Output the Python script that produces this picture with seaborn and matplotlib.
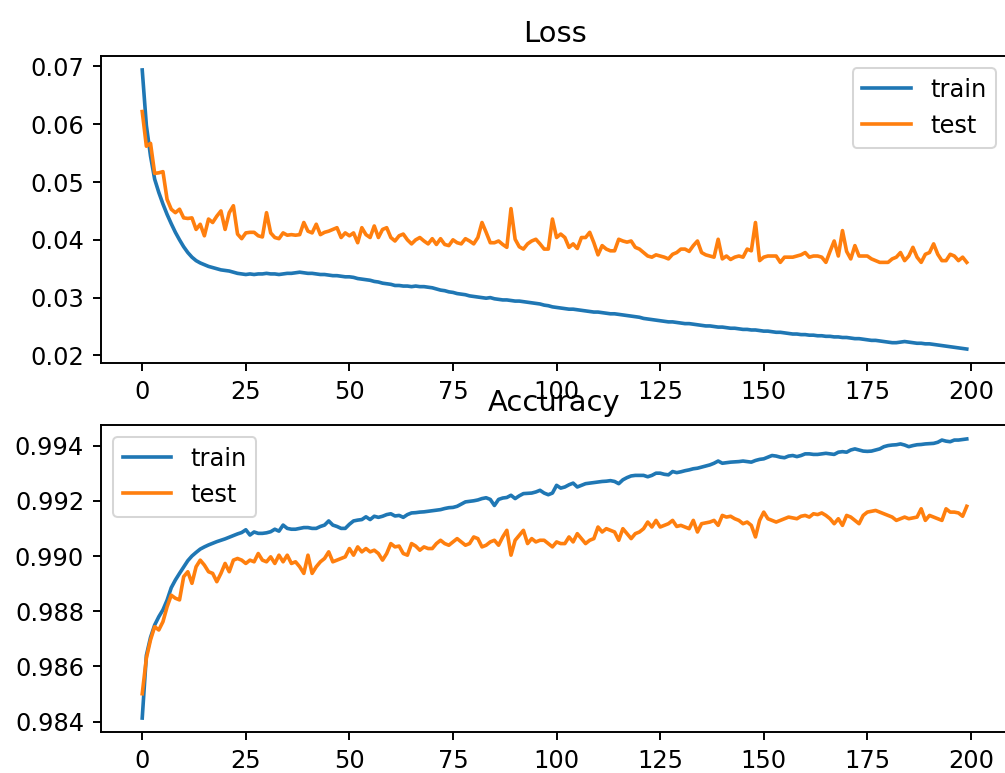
import numpy as np
import pandas as pd
import matplotlib
matplotlib.use("Agg")
import matplotlib.pyplot as plt
import seaborn as sns

series_labels = ["train", "test"]
titles = ["Loss", "Accuracy"]

loss_train = [
    0.0694, 0.0598, 0.0545, 0.0505, 0.0482, 0.0462, 0.0444, 0.0428, 0.0413, 0.0400,
    0.0388, 0.0378, 0.0370, 0.0364, 0.0360, 0.0357, 0.0354, 0.0352, 0.0350, 0.0348,
    0.0347, 0.0346, 0.0344, 0.0342, 0.0341, 0.0340, 0.0341, 0.0340, 0.0341, 0.0341,
    0.0342, 0.0341, 0.0341, 0.0340, 0.0341, 0.0342, 0.0342, 0.0343, 0.0344, 0.0343,
    0.0342, 0.0342, 0.0341, 0.0340, 0.0340, 0.0339, 0.0338, 0.0338, 0.0337, 0.0336,
    0.0336, 0.0335, 0.0333, 0.0332, 0.0331, 0.0330, 0.0328, 0.0327, 0.0325, 0.0324,
    0.0323, 0.0321, 0.0321, 0.0320, 0.0320, 0.0319, 0.0320, 0.0319, 0.0319, 0.0318,
    0.0317, 0.0315, 0.0313, 0.0312, 0.0310, 0.0309, 0.0307, 0.0306, 0.0305, 0.0303,
    0.0302, 0.0301, 0.0300, 0.0299, 0.0300, 0.0298, 0.0297, 0.0296, 0.0296, 0.0295,
    0.0294, 0.0294, 0.0293, 0.0292, 0.0291, 0.0290, 0.0289, 0.0287, 0.0286, 0.0284,
    0.0283, 0.0282, 0.0281, 0.0280, 0.0280, 0.0279, 0.0278, 0.0277, 0.0276, 0.0275,
    0.0275, 0.0274, 0.0273, 0.0272, 0.0272, 0.0271, 0.0270, 0.0269, 0.0268, 0.0267,
    0.0266, 0.0264, 0.0263, 0.0262, 0.0261, 0.0260, 0.0259, 0.0258, 0.0258, 0.0257,
    0.0256, 0.0255, 0.0255, 0.0254, 0.0253, 0.0252, 0.0251, 0.0251, 0.0250, 0.0249,
    0.0249, 0.0248, 0.0247, 0.0247, 0.0246, 0.0245, 0.0245, 0.0244, 0.0244, 0.0243,
    0.0242, 0.0242, 0.0241, 0.0240, 0.0240, 0.0239, 0.0238, 0.0237, 0.0237, 0.0236,
    0.0236, 0.0235, 0.0235, 0.0234, 0.0234, 0.0233, 0.0233, 0.0232, 0.0232, 0.0231,
    0.0231, 0.0230, 0.0229, 0.0229, 0.0228, 0.0227, 0.0226, 0.0226, 0.0225, 0.0224,
    0.0223, 0.0222, 0.0222, 0.0223, 0.0224, 0.0223, 0.0222, 0.0221, 0.0221, 0.0220,
    0.0220, 0.0219, 0.0218, 0.0217, 0.0216, 0.0215, 0.0214, 0.0213, 0.0212, 0.0211,
]

loss_test = [
    0.0622, 0.0562, 0.0567, 0.0515, 0.0516, 0.0518, 0.0470, 0.0453, 0.0447, 0.0453,
    0.0438, 0.0437, 0.0438, 0.0418, 0.0427, 0.0407, 0.0436, 0.0430, 0.0441, 0.0450,
    0.0418, 0.0447, 0.0459, 0.0410, 0.0402, 0.0412, 0.0413, 0.0413, 0.0407, 0.0405,
    0.0447, 0.0412, 0.0404, 0.0402, 0.0412, 0.0408, 0.0409, 0.0408, 0.0409, 0.0430,
    0.0415, 0.0412, 0.0427, 0.0409, 0.0413, 0.0415, 0.0418, 0.0421, 0.0404, 0.0412,
    0.0407, 0.0412, 0.0395, 0.0421, 0.0409, 0.0404, 0.0424, 0.0404, 0.0418, 0.0421,
    0.0404, 0.0398, 0.0407, 0.0410, 0.0400, 0.0393, 0.0400, 0.0404, 0.0398, 0.0393,
    0.0402, 0.0392, 0.0402, 0.0392, 0.0390, 0.0400, 0.0395, 0.0393, 0.0402, 0.0398,
    0.0393, 0.0404, 0.0430, 0.0413, 0.0395, 0.0395, 0.0398, 0.0392, 0.0387, 0.0454,
    0.0401, 0.0388, 0.0384, 0.0393, 0.0398, 0.0401, 0.0393, 0.0384, 0.0384, 0.0436,
    0.0404, 0.0410, 0.0404, 0.0387, 0.0393, 0.0385, 0.0404, 0.0404, 0.0413, 0.0395,
    0.0374, 0.0390, 0.0384, 0.0381, 0.0381, 0.0401, 0.0398, 0.0396, 0.0398, 0.0387,
    0.0384, 0.0378, 0.0372, 0.0370, 0.0374, 0.0372, 0.0370, 0.0367, 0.0375, 0.0378,
    0.0384, 0.0384, 0.0380, 0.0390, 0.0398, 0.0378, 0.0374, 0.0372, 0.0370, 0.0401,
    0.0367, 0.0372, 0.0366, 0.0370, 0.0372, 0.0370, 0.0384, 0.0381, 0.0430, 0.0364,
    0.0370, 0.0372, 0.0372, 0.0372, 0.0361, 0.0370, 0.0370, 0.0370, 0.0372, 0.0374,
    0.0378, 0.0370, 0.0372, 0.0372, 0.0370, 0.0361, 0.0380, 0.0398, 0.0372, 0.0416,
    0.0380, 0.0367, 0.0390, 0.0372, 0.0372, 0.0372, 0.0367, 0.0364, 0.0361, 0.0361,
    0.0361, 0.0367, 0.0370, 0.0378, 0.0364, 0.0372, 0.0387, 0.0370, 0.0361, 0.0375,
    0.0378, 0.0393, 0.0375, 0.0364, 0.0364, 0.0375, 0.0372, 0.0364, 0.0370, 0.0361,
]

acc_train = [
    0.98413, 0.98640, 0.98705, 0.98750, 0.98780, 0.98805, 0.98840, 0.98885, 0.98913, 0.98937,
    0.98960, 0.98983, 0.99000, 0.99013, 0.99025, 0.99033, 0.99040, 0.99046, 0.99052, 0.99057,
    0.99062, 0.99068, 0.99074, 0.99080, 0.99085, 0.99095, 0.99076, 0.99087, 0.99082, 0.99082,
    0.99084, 0.99088, 0.99097, 0.99090, 0.99112, 0.99100, 0.99097, 0.99097, 0.99100, 0.99103,
    0.99103, 0.99100, 0.99100, 0.99107, 0.99112, 0.99127, 0.99112, 0.99107, 0.99100, 0.99100,
    0.99115, 0.99127, 0.99130, 0.99132, 0.99142, 0.99132, 0.99144, 0.99140, 0.99144, 0.99150,
    0.99153, 0.99145, 0.99147, 0.99140, 0.99150, 0.99156, 0.99157, 0.99159, 0.99160, 0.99162,
    0.99164, 0.99166, 0.99168, 0.99172, 0.99175, 0.99176, 0.99180, 0.99188, 0.99196, 0.99198,
    0.99200, 0.99203, 0.99208, 0.99211, 0.99205, 0.99183, 0.99205, 0.99210, 0.99212, 0.99220,
    0.99208, 0.99218, 0.99226, 0.99227, 0.99228, 0.99232, 0.99238, 0.99228, 0.99222, 0.99228,
    0.99256, 0.99246, 0.99250, 0.99258, 0.99264, 0.99250, 0.99256, 0.99262, 0.99264, 0.99266,
    0.99268, 0.99270, 0.99271, 0.99273, 0.99270, 0.99262, 0.99276, 0.99284, 0.99290, 0.99292,
    0.99292, 0.99292, 0.99287, 0.99292, 0.99300, 0.99300, 0.99296, 0.99294, 0.99306, 0.99302,
    0.99305, 0.99309, 0.99312, 0.99316, 0.99318, 0.99322, 0.99326, 0.99330, 0.99336, 0.99344,
    0.99336, 0.99338, 0.99340, 0.99341, 0.99342, 0.99344, 0.99342, 0.99340, 0.99346, 0.99350,
    0.99352, 0.99358, 0.99364, 0.99362, 0.99358, 0.99356, 0.99362, 0.99364, 0.99360, 0.99364,
    0.99370, 0.99370, 0.99368, 0.99368, 0.99370, 0.99372, 0.99370, 0.99368, 0.99376, 0.99378,
    0.99376, 0.99384, 0.99388, 0.99384, 0.99380, 0.99379, 0.99380, 0.99384, 0.99388, 0.99396,
    0.99400, 0.99402, 0.99403, 0.99406, 0.99402, 0.99396, 0.99400, 0.99403, 0.99404, 0.99406,
    0.99407, 0.99408, 0.99412, 0.99420, 0.99416, 0.99414, 0.99420, 0.99420, 0.99422, 0.99424,
]

acc_test = [
    0.98501, 0.98630, 0.98696, 0.98744, 0.98732, 0.98762, 0.98816, 0.98858, 0.98847, 0.98841,
    0.98925, 0.98943, 0.98901, 0.98961, 0.98985, 0.98967, 0.98943, 0.98937, 0.98907, 0.98937,
    0.98973, 0.98943, 0.98985, 0.98991, 0.98985, 0.98973, 0.98985, 0.98979, 0.99009, 0.98985,
    0.98979, 0.98997, 0.98973, 0.99003, 0.98979, 0.99003, 0.98973, 0.98979, 0.98961, 0.98937,
    0.99003, 0.98937, 0.98961, 0.98979, 0.98991, 0.99015, 0.98979, 0.98985, 0.98991, 0.98997,
    0.99027, 0.99003, 0.99033, 0.99015, 0.99027, 0.99015, 0.99021, 0.99009, 0.98985, 0.99009,
    0.99045, 0.99033, 0.99036, 0.99009, 0.99003, 0.99045, 0.99036, 0.99021, 0.99033, 0.99027,
    0.99027, 0.99045, 0.99057, 0.99045, 0.99039, 0.99051, 0.99063, 0.99051, 0.99039, 0.99045,
    0.99069, 0.99063, 0.99033, 0.99039, 0.99051, 0.99057, 0.99039, 0.99069, 0.99093, 0.99003,
    0.99057, 0.99075, 0.99093, 0.99045, 0.99063, 0.99051, 0.99057, 0.99057, 0.99045, 0.99033,
    0.99051, 0.99045, 0.99045, 0.99069, 0.99051, 0.99081, 0.99063, 0.99045, 0.99057, 0.99063,
    0.99105, 0.99087, 0.99099, 0.99093, 0.99087, 0.99057, 0.99099, 0.99081, 0.99063, 0.99081,
    0.99087, 0.99099, 0.99123, 0.99105, 0.99129, 0.99105, 0.99111, 0.99117, 0.99129, 0.99107,
    0.99111, 0.99105, 0.99099, 0.99129, 0.99087, 0.99117, 0.99120, 0.99123, 0.99129, 0.99111,
    0.99147, 0.99141, 0.99144, 0.99135, 0.99129, 0.99117, 0.99123, 0.99111, 0.99069, 0.99129,
    0.99159, 0.99135, 0.99129, 0.99123, 0.99129, 0.99135, 0.99141, 0.99138, 0.99135, 0.99144,
    0.99147, 0.99141, 0.99153, 0.99150, 0.99156, 0.99147, 0.99135, 0.99117, 0.99135, 0.99111,
    0.99147, 0.99141, 0.99129, 0.99117, 0.99147, 0.99159, 0.99162, 0.99165, 0.99159, 0.99153,
    0.99147, 0.99141, 0.99129, 0.99135, 0.99141, 0.99135, 0.99138, 0.99141, 0.99171, 0.99129,
    0.99147, 0.99141, 0.99135, 0.99129, 0.99171, 0.99159, 0.99159, 0.99156, 0.99144, 0.99180,
]

epochs = np.arange(len(loss_train))
colors = ["#1f77b4", "#ff7f0e"]

plt.rcParams.update({
    "font.size": 12,
    "axes.titlesize": 14.4,
    "axes.linewidth": 0.96,
    "xtick.major.size": 4.2,
    "ytick.major.size": 4.2,
    "xtick.major.width": 0.96,
    "ytick.major.width": 0.96,
    "xtick.major.pad": 4.2,
    "ytick.major.pad": 4.2,
})

DPI = 145
W, H = 1005, 773
fig = plt.figure(figsize=(W / DPI, H / DPI), dpi=DPI)

left, right = 101.0, 1008.0
ax1 = fig.add_axes([left / W, 1 - 363 / H, (right - left) / W, 307 / H])
ax2 = fig.add_axes([left / W, 1 - 732 / H, (right - left) / W, 307 / H])

for ax, title, tr, te, loc in [
    (ax1, titles[0], loss_train, loss_test, "upper right"),
    (ax2, titles[1], acc_train, acc_test, "upper left"),
]:
    sns.lineplot(x=epochs, y=tr, ax=ax, color=colors[0], label=series_labels[0], linewidth=1.8)
    sns.lineplot(x=epochs, y=te, ax=ax, color=colors[1], label=series_labels[1], linewidth=1.8)
    ax.set_title(title, pad=7)
    ax.legend(loc=loc, fontsize=12)
    ax.set_xlabel("")
    ax.set_ylabel("")
    ax.set_xticks([0, 25, 50, 75, 100, 125, 150, 175, 200])
    ax.margins(x=0.05, y=0.05)

ax1.set_yticks([0.02, 0.03, 0.04, 0.05, 0.06, 0.07])
ax2.set_yticks([0.984, 0.986, 0.988, 0.990, 0.992, 0.994])
ax2.yaxis.set_major_formatter(matplotlib.ticker.FormatStrFormatter("%.3f"))
ax1.yaxis.set_major_formatter(matplotlib.ticker.FormatStrFormatter("%.2f"))

fig.savefig("out.png", dpi=DPI)
